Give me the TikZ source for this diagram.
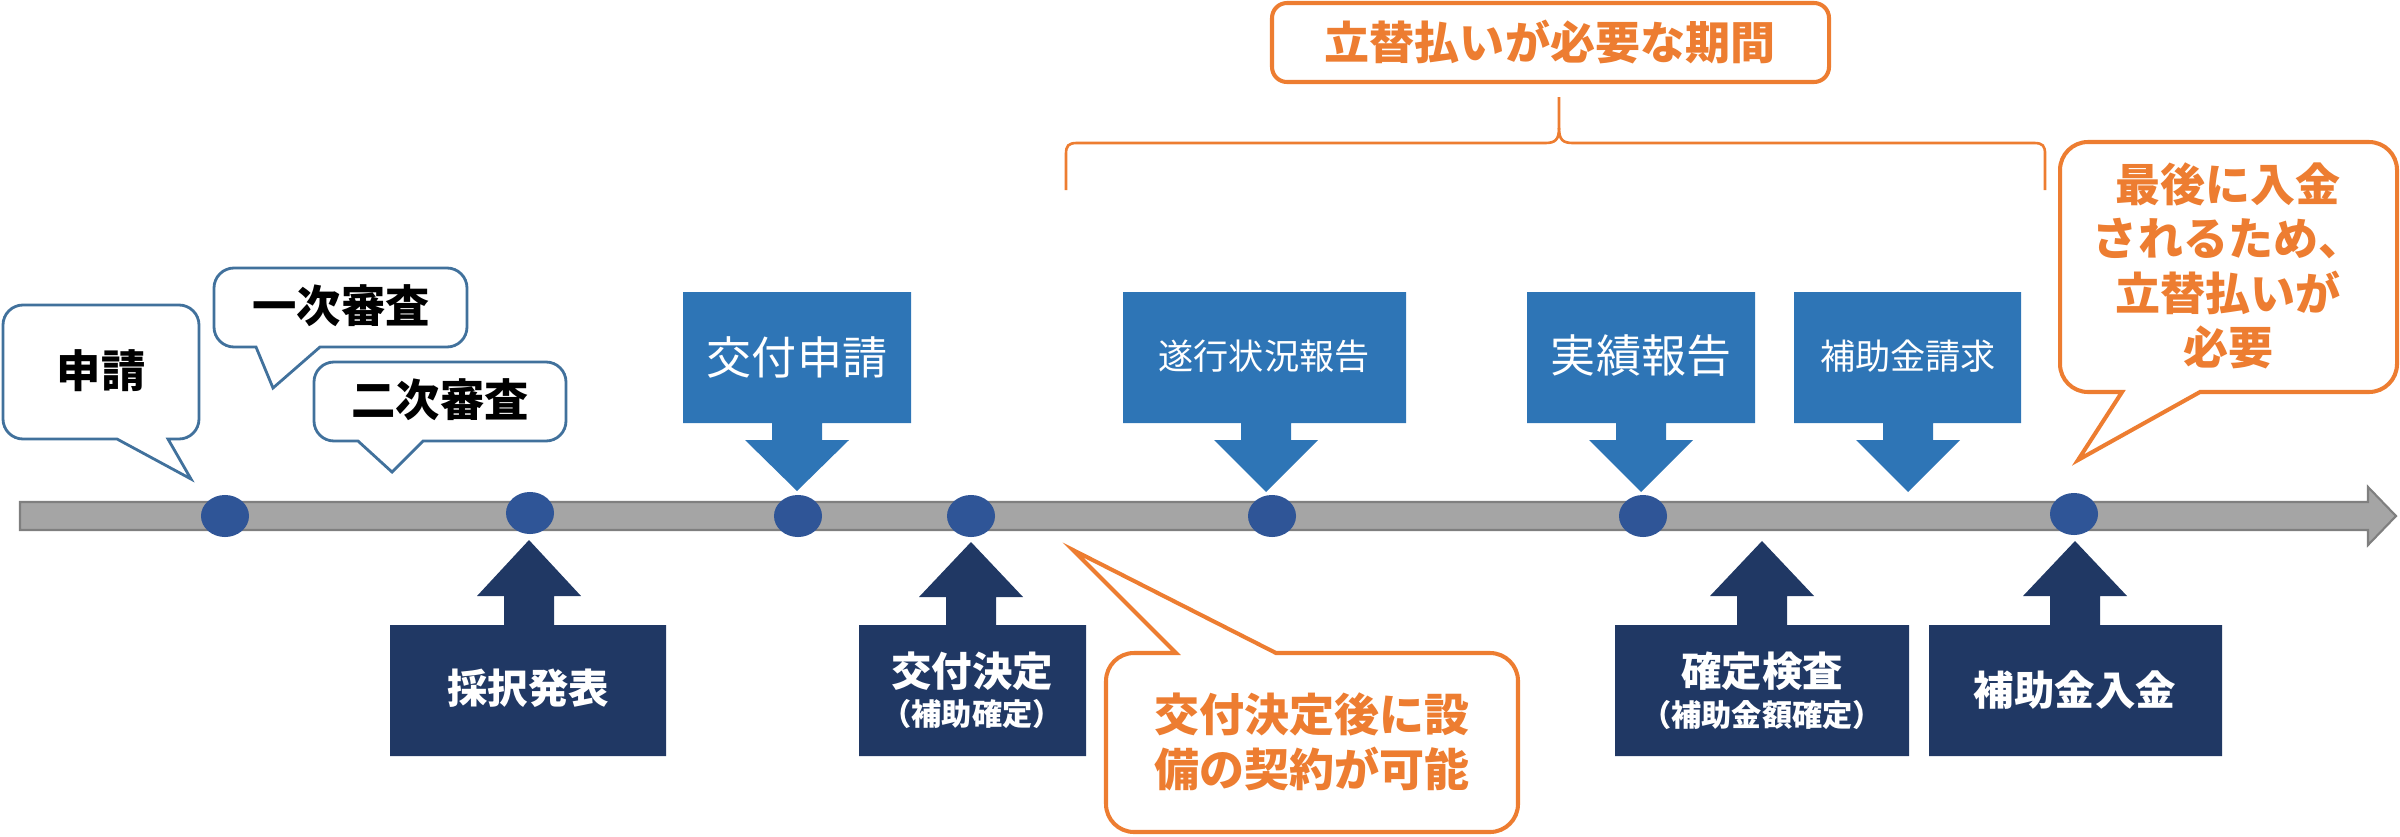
\documentclass[tikz,border=0pt]{standalone}
\usepackage{fontspec}
\setmainfont{Noto Sans CJK JP}
\usetikzlibrary{shapes.geometric}
\definecolor{ublue}{HTML}{2E75B6}
\definecolor{navy}{HTML}{203864}
\definecolor{dotblue}{HTML}{2F5597}
\definecolor{cblue}{HTML}{41719C}
\definecolor{orng}{HTML}{ED7D31}
\definecolor{barfill}{HTML}{A5A5A5}
\definecolor{barline}{HTML}{7F7F7F}
\newcommand\fsz[2]{\fontsize{#1pt}{#2pt}\selectfont}
\def\crad{20}
% rounded box with a tail on the bottom edge: style, L, T, R, B, a1, a2, (tip)
\newcommand{\calloutBot}[8]{%
  \path[#1] (#2+\crad,#3) -- (#4-\crad,#3) arc[start angle=-90,end angle=0,radius=\crad]
    -- (#4,#5-\crad) arc[start angle=0,end angle=90,radius=\crad]
    -- (#7,#5) -- #8 -- (#6,#5)
    -- (#2+\crad,#5) arc[start angle=90,end angle=180,radius=\crad]
    -- (#2,#3+\crad) arc[start angle=180,end angle=270,radius=\crad] -- cycle;}
% rounded box with a tail on the top edge
\newcommand{\calloutTop}[8]{%
  \path[#1] (#2+\crad,#3) -- (#6,#3) -- #8 -- (#7,#3)
    -- (#4-\crad,#3) arc[start angle=-90,end angle=0,radius=\crad]
    -- (#4,#5-\crad) arc[start angle=0,end angle=90,radius=\crad]
    -- (#2+\crad,#5) arc[start angle=90,end angle=180,radius=\crad]
    -- (#2,#3+\crad) arc[start angle=180,end angle=270,radius=\crad] -- cycle;}
% box with arrow: style, L, Y1 (far edge), R, Y2 (edge with shaft), cx, head base y, tip y
\newcommand{\arrowbox}[8]{%
  \fill[#1] (#2,#3) -- (#4,#3) -- (#4,#5) -- (#6+25,#5) -- (#6+25,#7) -- (#6+52,#7)
    -- (#6,#8) -- (#6-52,#7) -- (#6-25,#7) -- (#6-25,#5) -- (#2,#5) -- cycle;}
\begin{document}
\begin{tikzpicture}[x=0.01cm,y=-0.01cm,
  dotnode/.style={ellipse, fill=dotblue, inner sep=0pt, minimum width=0.48cm, minimum height=0.42cm},
  bcall/.style={draw=cblue, line width=0.8pt, fill=white},
  ocall/.style={draw=orng, line width=1.15pt, fill=white},
  blk/.style={text=black, font=\bfseries\fsz{12.6}{15}},
  wlt/.style={text=white, font=\fsz{12.8}{15}},
  wsm/.style={text=white, font=\fsz{10}{12}},
  wbd/.style={text=white, font=\bfseries\fsz{11.5}{14}},
  wsub/.style={text=white, font=\bfseries\fsz{8.6}{10}},
  otxt/.style={text=orng, font=\bfseries\fsz{12.8}{15.5}, align=center},
  obr/.style={draw=orng, line width=0.75pt},
]
\useasboundingbox (0,0) rectangle (2400,836);

% timeline bar
\path[fill=barfill, draw=barline, line width=0.6pt, line join=miter]
  (20,502) -- (2368,502) -- (2368,487) -- (2396,516) -- (2368,545) -- (2368,530) -- (20,530) -- cycle;

% blue speech callouts
\def\crad{20}
\calloutBot{bcall}{3}{305}{199}{439}{117}{168}{(191,479)}
\node[blk] (shinsei) at (101,371) {申請};
\calloutBot{bcall}{214}{268}{467}{347}{256}{320}{(273,388)}
\node[blk] (ichiji) at (341,306) {一次審査};
\calloutBot{bcall}{314}{362}{566}{441}{358}{423}{(392,472)}
\node[blk] (niji) at (440,400) {二次審査};

% upper blue boxes
\arrowbox{ublue}{683}{292}{911}{423}{797}{440}{491}
\node[wlt] (kofushinsei) at (797,357) {交付申請};
\arrowbox{ublue}{1123}{292}{1406}{423}{1266}{440}{492}
\node[wsm] (suikou) at (1264,356) {遂行状況報告};
\arrowbox{ublue}{1527}{292}{1755}{423}{1641}{440}{492}
\node[wlt] (jisseki) at (1641,356) {実績報告};
\arrowbox{ublue}{1794}{292}{2021}{423}{1908}{440}{492}
\node[wsm] (seikyu) at (1908,356) {補助金請求};

% lower navy boxes
\arrowbox{navy}{390}{756}{666}{625}{529}{596}{540}
\node[wbd] (saitaku) at (528,688) {採択発表};
\arrowbox{navy}{859}{756}{1086}{625}{971}{597}{542}
\node[wbd] (kofukettei) at (972,671) {交付決定};
\node[wsub] (kofusub) at (972,714) {（補助確定）};
\arrowbox{navy}{1615}{756}{1909}{625}{1762}{596}{541}
\node[wbd] (kakutei) at (1762,671) {確定検査};
\node[wsub] (kakuteisub) at (1762,715) {（補助金額確定）};
\arrowbox{navy}{1929}{756}{2222}{625}{2075}{596}{541}
\node[wbd] (nyukin) at (2075,690) {補助金入金};

% dots on the timeline
\node[dotnode] (d1) at (225,516) {};
\node[dotnode] (d2) at (530,513) {};
\node[dotnode] (d3) at (798,516) {};
\node[dotnode] (d4) at (971,516) {};
\node[dotnode] (d5) at (1272,516) {};
\node[dotnode] (d6) at (1643,516) {};
\node[dotnode] (d7) at (2074,514) {};

% orange title and bracket
\def\crad{15}
\path[draw=orng, line width=1.15pt, fill=white]
  (1272+\crad,3) -- (1829-\crad,3) arc[start angle=-90,end angle=0,radius=\crad]
  -- (1829,82-\crad) arc[start angle=0,end angle=90,radius=\crad]
  -- (1272+\crad,82) arc[start angle=90,end angle=180,radius=\crad]
  -- (1272,3+\crad) arc[start angle=180,end angle=270,radius=\crad] -- cycle;
\node[otxt] (kikan) at (1550,42) {立替払いが必要な期間};
\draw[obr] (1066,190) -- (1066,154) .. controls (1066,146) and (1068,143) .. (1077,143)
  -- (1545,143) .. controls (1555,143) and (1559,140) .. (1559,128) -- (1559,97);
\draw[obr] (1559,128) .. controls (1559,140) and (1563,143) .. (1573,143)
  -- (2034,143) .. controls (2043,143) and (2045,146) .. (2045,154) -- (2045,190);

% orange callouts
\def\crad{28}
\calloutBot{ocall}{2060}{142}{2397}{392}{2122}{2200}{(2078,460)}
\node[otxt] (saigo) at (2228,266) {最後に入金\\されるため、\\立替払いが\\必要};
\calloutTop{ocall}{1106}{653}{1518}{832}{1176}{1276}{(1073,550)}
\node[otxt] (keiyaku) at (1312,742) {交付決定後に設\\備の契約が可能};
\end{tikzpicture}
\end{document}
